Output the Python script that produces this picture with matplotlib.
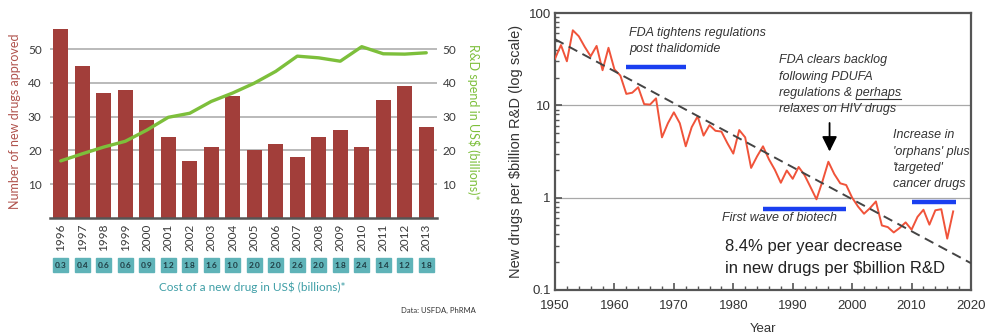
import matplotlib
matplotlib.use("Agg")
import matplotlib.pyplot as plt
import matplotlib.transforms as mtransforms
from matplotlib.patches import Rectangle
from matplotlib.lines import Line2D
from matplotlib.ticker import LogLocator, NullFormatter, FixedLocator
import numpy as np

# ---- Left panel: FDA approvals vs PhRMA R&D spend ----
years = [1996, 1997, 1998, 1999, 2000, 2001, 2002, 2003, 2004,
         2005, 2006, 2007, 2008, 2009, 2010, 2011, 2012, 2013]
new_drugs = [56, 45, 37, 38, 29, 24, 17, 21, 36,
             20, 22, 18, 24, 26, 21, 35, 39, 27]
rd_spend = [16.9, 19.0, 21.0, 22.7, 26.0, 29.8, 31.0, 34.5, 37.0,
            39.9, 43.4, 47.9, 47.4, 46.4, 50.7, 48.6, 48.5, 48.9]
cost_per_drug = ["0.3", "0.4", "0.6", "0.6", "0.9", "1.2", "1.8", "1.6", "1.0",
                 "2.0", "2.0", "2.6", "2.0", "1.8", "2.4", "1.4", "1.2", "1.8"]
left_ticks = [10, 20, 30, 40, 50]

# ---- Right panel: new drugs per $billion R&D, 1950-2017 ----
eroom_years = list(range(1950, 2018))
eroom_values = [32, 45, 30, 65, 56, 43, 34, 44, 24, 42,
                24.5, 21, 13.3, 13.7, 15.7, 10.3, 10.2, 11.9, 4.5, 6.4,
                8.4, 6.4, 3.6, 5.8, 7.6, 4.7, 6.1, 5.3, 5.2, 3.9,
                3.0, 5.4, 4.5, 2.1, 2.8, 3.6, 2.6, 2.0, 1.45, 1.97,
                1.6, 2.15, 1.75, 1.3, 0.96, 1.5, 2.45, 1.8, 1.43, 1.37,
                1.0, 0.8, 0.67, 0.77, 0.91, 0.5, 0.48, 0.42, 0.47, 0.54,
                0.45, 0.62, 0.74, 0.51, 0.73, 0.75, 0.36, 0.71]
trend_years = [1950, 2020]
trend_values = [52, 0.195]
# (start year, end year, level) of the highlighted periods
periods = [(1962, 1972, 26), (1985, 1999, 0.75), (2010, 2017.4, 0.9)]

W, H = 987, 334
fig = plt.figure(figsize=(W / 100, H / 100), dpi=100)


def fx(px):
    return px / W


def fy(py):
    return 1 - py / H


bar_col = "#a23e3a"
green = "#7dbf3b"
teal_txt = "#3e9ea6"
teal_box = "#5fb3b8"
grey_txt = "#3a3a3a"

lfont = "Lato"

ax = fig.add_axes([fx(50), fy(218), 387 / W, 192.6 / H])
x = np.arange(len(years))
ax.set_axisbelow(True)
ax.bar(x, new_drugs, width=0.69, color=bar_col, zorder=2)
ax.plot(x, rd_spend, color=green, lw=2.4, zorder=3, solid_capstyle="round")
ax.set_xlim(-0.5, len(years) - 0.5)
ax.set_ylim(0, 57)
ax.yaxis.set_major_locator(FixedLocator(left_ticks))
ax.grid(axis="y", color="#b4b4b4", lw=1.3)
for s in ["top", "left", "right"]:
    ax.spines[s].set_visible(False)
ax.spines["bottom"].set_color("#555555")
ax.spines["bottom"].set_linewidth(1.8)
ax.tick_params(axis="y", length=0, labelsize=8.5, labelcolor=grey_txt, pad=6)
ax.set_yticklabels([str(t) for t in left_ticks], fontfamily=lfont)
ax.set_xticks(x)
ax.set_xticklabels([str(y) for y in years], rotation=90, fontsize=8.5,
                   color=grey_txt, fontfamily=lfont)
ax.tick_params(axis="x", length=0, pad=4)
ax.set_ylabel("Number of new drugs approved", color="#b0534d", fontsize=9,
              fontfamily=lfont, labelpad=5)

ax2 = ax.twinx()
ax2.set_ylim(ax.get_ylim())
ax2.yaxis.set_major_locator(FixedLocator(left_ticks))
for s in ["top", "left", "right", "bottom"]:
    ax2.spines[s].set_visible(False)
ax2.tick_params(axis="y", length=0, labelsize=8.5, labelcolor=grey_txt, pad=4)
ax2.set_yticklabels([str(t) for t in left_ticks], fontfamily=lfont)
ax2.set_ylabel("R&D spend in US$ (billions)*", color=green, fontsize=9,
               fontfamily=lfont, rotation=270, labelpad=17)

# cost boxes under the year labels
btrans = mtransforms.blended_transform_factory(ax.transData, fig.transFigure)
for i, c in enumerate(cost_per_drug):
    ax.add_patch(Rectangle((i - 0.345, fy(272)), 0.69, 14 / H,
                           transform=btrans, color=teal_box, clip_on=False,
                           zorder=1))
    ax.text(i, fy(265), c, transform=btrans, ha="center", va="center",
            fontsize=6, fontweight="bold", color="#1f3d44",
            fontfamily=lfont)
fig.text(fx(252), fy(287), "Cost of a new drug in US$ (billions)*",
         ha="center", va="center", color=teal_txt, fontsize=8.5,
         fontfamily=lfont)
fig.text(fx(476), fy(310), "Data: USFDA, PhRMA", ha="right",
         va="center", color="#333333", fontsize=5.5, fontfamily=lfont)

# ---- right panel ----
rfont = "Liberation Sans"
bx = fig.add_axes([fx(555), fy(290), 416 / W, 277 / H])
bx.set_yscale("log")
bx.set_xlim(1950, 2020)
bx.set_ylim(0.1, 100)
bx.axhline(10, color="#a8a8a8", lw=0.9, zorder=1)
bx.axhline(1, color="#a8a8a8", lw=0.9, zorder=1)
bx.plot(eroom_years, eroom_values, color="#f0533a", lw=1.4, zorder=3)
bx.plot(trend_years, trend_values, color="#444444", lw=1.4,
        ls=(0, (5, 3)), zorder=4)
for x0, x1, lvl in periods:
    bx.plot([x0, x1], [lvl, lvl], color="#1a3ff0", lw=3.2,
            solid_capstyle="butt", zorder=4)

for s in bx.spines.values():
    s.set_color("#555555")
    s.set_linewidth(1.6)
bx.yaxis.set_minor_locator(LogLocator(base=10, subs=np.arange(2, 10),
                                      numticks=10))
bx.yaxis.set_minor_formatter(NullFormatter())
bx.set_yticks([0.1, 1, 10, 100])
bx.set_yticklabels(["0.1", "1", "10", "100"])
bx.xaxis.set_major_locator(FixedLocator(range(1950, 2021, 10)))
bx.xaxis.set_minor_locator(FixedLocator(range(1950, 2021, 2)))
bx.tick_params(which="both", direction="in", right=False, top=False,
               labelsize=9.5, labelcolor="#333333", color="#555555")
bx.tick_params(which="major", length=5, width=1.2)
bx.tick_params(which="minor", length=3, width=1.0)
bx.tick_params(axis="x", pad=7)
bx.tick_params(axis="y", pad=3)
for lab in bx.get_xticklabels() + bx.get_yticklabels():
    lab.set_fontfamily(rfont)
bx.set_xlabel("Year", fontsize=9.5, color="#333333", fontfamily=rfont,
              labelpad=8)
bx.set_ylabel("New drugs per $billion R&D (log scale)", fontsize=10.5,
              color="#333333", fontfamily=rfont, labelpad=4)

itxt = dict(fontsize=9, style="italic", color="#333333", fontfamily=rfont,
            transform=fig.transFigure, va="center", ha="left")


def note(px, lines_py, lines):
    arts = []
    for py, s in zip(lines_py, lines):
        arts.append(fig.text(fx(px), fy(py), s, **itxt))
    return arts


note(629, [33, 49], ["FDA tightens regulations", "post thalidomide"])
pdufa = note(779, [60, 77, 93, 109],
             ["FDA clears backlog", "following PDUFA",
              "regulations & perhaps", "relaxes on HIV drugs"])
note(893, [135, 152, 168, 184],
     ["Increase in", "'orphans' plus", "'targeted'", "cancer drugs"])
note(722, [218], ["First wave of biotech"])

# underline "perhaps" on the PDUFA note
renderer = fig.canvas.get_renderer()
full = pdufa[2].get_window_extent(renderer)
probe = fig.text(0, 0, "perhaps", **itxt)
w_word = probe.get_window_extent(renderer).width
probe.remove()
x_end = full.x1
x_start = x_end - w_word
y_line = fig.dpi * fig.get_figheight() - 99
fig.add_artist(Line2D([x_start / W, x_end / W], [y_line / H, y_line / H],
                      transform=fig.transFigure, color="#333333", lw=0.8))

bx.annotate("", xy=(1996.2, 2.95), xytext=(1996.2, 6.9),
            arrowprops=dict(arrowstyle="-|>,head_length=0.9,head_width=0.45",
                            color="black", lw=1.3))

fig.text(fx(725), fy(246), "8.4% per year decrease", fontsize=12,
         color="#222222", fontfamily=rfont, va="center", ha="left")
fig.text(fx(725), fy(268), "in new drugs per $billion R&D", fontsize=12,
         color="#222222", fontfamily=rfont, va="center", ha="left")

fig.savefig("out.png", dpi=100)
